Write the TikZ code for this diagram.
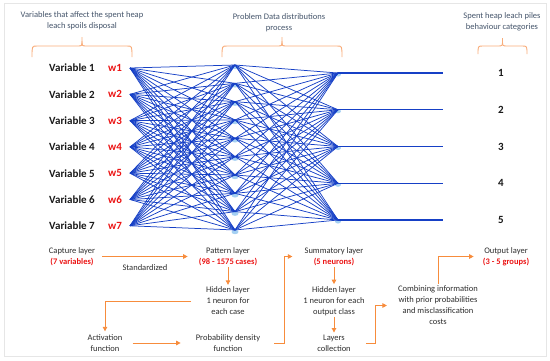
\documentclass[tikz,border=0pt]{standalone}
\usepackage{fontspec}
\setmainfont{Carlito}
\usetikzlibrary{arrows.meta}
\definecolor{netblue}{RGB}{22,64,198}
\definecolor{nodeglow}{RGB}{165,208,242}
\definecolor{hdrgray}{RGB}{68,84,106}
\definecolor{txtgray}{RGB}{45,45,45}
\definecolor{arrorange}{RGB}{247,140,60}
\definecolor{braceorange}{RGB}{248,172,122}
\definecolor{redlbl}{RGB}{235,20,20}
\definecolor{framegray}{RGB}{230,230,230}
\newcommand\mybrace[5]{%
  \draw[bracesty] (#1,#4) .. controls (#1,#3) .. ({#1+5},#3) -- ({(#1+#2)/2-5},#3) .. controls ({(#1+#2)/2},#3) .. ({(#1+#2)/2},{#3-5}) -- ({(#1+#2)/2},#5);
  \draw[bracesty] (#2,#4) .. controls (#2,#3) .. ({#2-5},#3) -- ({(#1+#2)/2+5},#3) .. controls ({(#1+#2)/2},#3) .. ({(#1+#2)/2},{#3-5});
}
\begin{document}
\begin{tikzpicture}[x=1pt,y=-1pt,
  net/.style={draw=netblue, line width=0.75pt},
  bracesty/.style={draw=braceorange, line width=0.9pt},
  arr/.style={draw=arrorange, line width=0.9pt, -{Triangle[length=4.5pt,width=4.5pt]}},
  hdr/.style={font=\fontsize{8.5}{11}\selectfont, text=hdrgray, align=center, inner sep=0pt},
  lbl/.style={font=\fontsize{8.5}{11}\selectfont, text=txtgray, align=center, inner sep=0pt},
  varlbl/.style={font=\fontsize{11}{13}\selectfont\bfseries, text=black!90, inner sep=0pt},
  wlbl/.style={font=\fontsize{11}{13}\selectfont\bfseries, text=redlbl, inner sep=0pt},
  numlbl/.style={font=\fontsize{11}{13}\selectfont\bfseries, text=black!90, inner sep=0pt}]
\useasboundingbox (0,0) rectangle (550,360);
\draw[framegray, line width=0.8pt] (4,3.5) rectangle (546,356);

% headers and braces
\node[hdr] (h1) at (82,21) {Variables that affect the spent heap\\leach spoils disposal};
\node[hdr] (h2) at (279,22.5) {Problem Data distributions\\process};
\node[hdr] (h3) at (502,21.5) {Spent heap leach piles\\behaviour categories};
\mybrace{32}{132}{46}{57}{37}
\mybrace{222}{342}{46}{57}{37}
\mybrace{478}{527}{46}{54}{38}

% network coordinates
\foreach \i in {1,...,7} \coordinate (in\i) at (130,{68+26.3*(\i-1)});
\foreach \j in {1,...,10} \coordinate (hd\j) at (235,{65+18.33*(\j-1)});
\foreach \k in {1,...,5} {
  \coordinate (sm\k) at (338,{73+36.75*(\k-1)});
  \coordinate (oc\k) at (443,{73+36.75*(\k-1)});
}
\foreach \j in {1,...,10} \fill[nodeglow] ([yshift=-2pt]hd\j) ellipse (3.5 and 2.2);
\foreach \k in {1,...,5} \fill[nodeglow] ([yshift=-1.5pt]sm\k) ellipse (3 and 2);
\foreach \i in {1,...,7} \foreach \j in {1,...,10} \draw[net] (in\i) -- (hd\j);
\foreach \j in {1,...,10} \foreach \k in {1,...,5} \draw[net] (hd\j) -- (sm\k);
\foreach \k in {1,...,5} \draw[net, line width=1.1pt] (sm\k) -- (oc\k);

% labels
\foreach \i in {1,...,7} {
  \node[varlbl, anchor=east] (var\i) at (95,{68+26.3*(\i-1)}) {Variable \i};
  \node[wlbl] (w\i) at (115,{68+26.3*(\i-1)}) {w\i};
}
\foreach \k in {1,...,5} \node[numlbl] (cat\k) at (501,{73+36.75*(\k-1)}) {\k};

% bottom flow
\node[lbl] (cap) at (72,256.5) {Capture layer\\{\color{redlbl}\bfseries (7 variables)}};
\node[lbl] (pat) at (228,256.5) {Pattern layer\\{\color{redlbl}\bfseries (98 - 1575 cases)}};
\node[lbl] (stdz) at (145,268) {Standardized};
\node[lbl] (hid1) at (228,301) {Hidden layer\\1 neuron for\\each case};
\node[lbl] (act) at (105,343) {Activation\\function};
\node[lbl] (pdf) at (228,343) {Probability density\\function};
\node[lbl] (sum) at (334,256.5) {Summatory layer\\{\color{redlbl}\bfseries (5 neurons)}};
\node[lbl] (hid2) at (334,301) {Hidden layer\\1 neuron for each\\output class};
\node[lbl] (coll) at (334,343) {Layers\\collection};
\node[lbl] (comb) at (438,305.5) {Combining information\\with prior probabilities\\and misclassification\\costs};
\node[lbl] (out) at (506,256.5) {Output layer\\{\color{redlbl}\bfseries (3 - 5 groups)}};

\draw[arr] ([xshift=7pt]cap.east) -- ([xshift=-11pt]pat.west);
\draw[arr] ([yshift=-1pt]pat.south) -- ([yshift=2pt]hid1.north);
\draw[arr] ([xshift=-15pt]hid1.west) -| ([yshift=3pt]act.north);
\draw[arr] ([xshift=10pt]act.east) -- ([xshift=-15pt]pdf.west);
\draw[arr] ([xshift=14pt]pdf.east) -- ++(10,0) |- ([xshift=-12pt]sum.west);
\draw[arr] ([yshift=-1pt]sum.south) -- ([yshift=2pt]hid2.north);
\draw[arr] ([yshift=-1pt]hid2.south) -- ([yshift=2pt]coll.north);
\draw[arr] ([xshift=15pt]coll.east) -- ++(10,0) |- ([xshift=-11pt]comb.west);
\draw[arr] ([yshift=2pt]comb.north) |- ([xshift=-9pt]out.west);
\end{tikzpicture}
\end{document}
